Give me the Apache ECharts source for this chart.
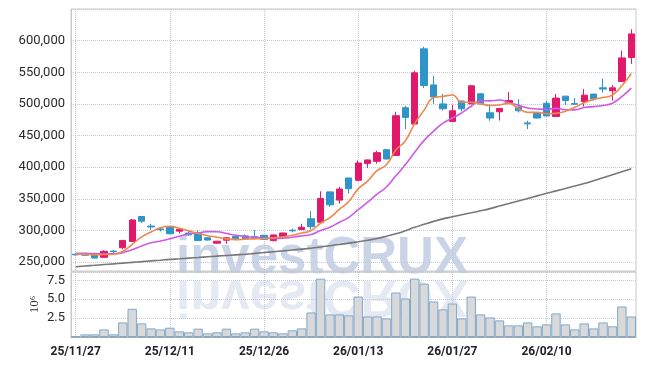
<!DOCTYPE html>
<html><head><meta charset="utf-8">
<script src="https://cdn.jsdelivr.net/npm/echarts@6/dist/echarts.min.js"></script>
<style>html,body{margin:0;padding:0;background:#fff}#c{width:645px;height:366px}</style>
</head><body><div id="c"></div>
<script>
const dates = ['25/11/27','25/11/28','25/12/01','25/12/02','25/12/03','25/12/04','25/12/05','25/12/08','25/12/09','25/12/10',
'25/12/11','25/12/12','25/12/15','25/12/16','25/12/17','25/12/18','25/12/19','25/12/22','25/12/23','25/12/24',
'25/12/26','25/12/29','25/12/30','26/01/02','26/01/05','26/01/06','26/01/07','26/01/08','26/01/09','26/01/12',
'26/01/13','26/01/14','26/01/15','26/01/16','26/01/19','26/01/20','26/01/21','26/01/22','26/01/23','26/01/26',
'26/01/27','26/01/28','26/01/29','26/01/30','26/02/02','26/02/03','26/02/04','26/02/05','26/02/06','26/02/09',
'26/02/10','26/02/11','26/02/12','26/02/13','26/02/19','26/02/20','26/02/23','26/02/24','26/02/25','26/02/26'];

const opens = [262500,262000,263300,257600,267500,272700,282700,322100,307000,302500,
305200,299000,296000,295500,288500,280000,284700,290500,291500,290000,
292500,284000,290000,300500,301500,318500,313000,361000,348000,383000,
379300,406000,409300,427700,418700,494000,468200,587000,530000,500000,
472300,504600,500200,516000,486000,487600,502300,495000,470000,486500,
501000,480200,512300,500500,503800,515500,525500,520700,535400,573200];
const closes = [261500,261000,256500,267100,266500,284300,316700,314700,305500,301500,
294800,302000,293000,284000,285000,283100,288500,287500,287500,287500,
286000,293000,296000,299500,305000,306000,350500,340500,365500,366000,
406700,411500,423000,413000,481300,478600,549100,529000,511000,492300,
489200,492300,528600,500000,477700,492800,505400,489200,468500,477700,
481000,509200,505400,499500,513900,508100,523500,525400,572700,610600];
const lows = [260500,260000,255500,257000,263700,270500,282000,311900,301000,298500,
294000,295300,292000,283500,284000,279500,279000,287000,287000,287000,
285500,282700,289500,297000,301000,301600,312500,337400,342600,358400,
378800,398900,405600,412500,418200,460300,467700,525000,500200,489700,
471800,488100,499700,499500,473400,473900,501800,486500,460300,477200,
480500,479700,498100,499000,496000,505000,518000,505400,534900,563300];
const highs = [263500,264000,264000,268700,268900,285000,318300,322800,310500,304500,
306000,302500,300000,300100,289000,283500,289000,291000,293700,301000,
293000,293500,296500,303000,310600,330500,362000,361500,368900,383500,
410800,412000,426100,428200,487600,497100,552300,590500,544400,516000,
498600,505100,530200,516500,499700,493300,518700,507600,473400,487000,
505000,515500,512800,509200,523400,516000,540100,529700,584200,618000];

const ma5 = [263000,262500,261500,262000,262500,267100,278200,289900,297500,304500,
306600,303700,299400,295100,291800,289400,286700,285600,286300,286800,
287400,288300,290000,292400,295900,299900,311400,320300,333500,345700,
365800,378000,394500,404000,427100,441500,469000,490200,509800,512000,
514100,502800,502700,500500,497600,498300,500900,493000,486700,486700,
484400,485100,488400,494600,501800,507200,510100,514100,528700,548100];
const ma10 = [264000,263800,263500,263200,263000,265000,269500,275500,280500,283500,
286900,291000,294600,296300,298200,298000,295200,292500,290700,289300,
288400,287500,287800,289400,291400,293700,299900,305200,313000,320800,
332900,344700,357400,368800,386400,403700,423500,442400,456900,469600,
477800,485900,496400,505100,504800,506200,501800,497900,493600,492100,
491300,493000,490700,490600,494300,495800,497600,501200,511600,524900];
const maLong = [242700,243900,245000,246200,247300,248500,249700,250800,252000,253100,
254300,255300,256400,257400,258500,259500,260500,261500,262500,263800,
265200,266500,267800,269200,270500,272000,274000,276000,278000,280000,
282200,284500,287300,291000,294800,299600,305100,309800,314400,318400,
321600,324800,327900,331100,334600,338600,342600,346700,350700,354700,
358800,362600,366500,370400,374200,378700,383400,388100,392800,397500];

// volume in millions (axis unit 10^6)
const volumes = [0.12,0.35,0.35,1.0,0.35,1.93,3.73,1.8,1.14,1.0,
1.23,0.75,0.62,1.1,0.48,0.62,1.1,0.48,0.62,1.1,
0.75,0.62,0.48,0.88,1.14,3.25,7.72,2.99,2.99,2.86,
5.35,2.72,2.72,2.46,5.88,5.09,7.72,7.06,4.7,3.65,
4.43,2.46,5.35,2.99,2.59,2.2,1.54,1.54,1.93,1.41,
1.67,3.12,1.67,1.01,1.8,1.14,1.93,1.41,4.04,2.72];

const UP = '#e2196a', DOWN = '#2f95c9';
const gridLine = {show:true, lineStyle:{color:'#c3c8d8', type:'dotted', width:1}};
const xSplit = {show:true, interval:9, alignWithLabel:true, lineStyle:{color:'#c3c8d8', type:'dotted', width:1}};
const labFont = 'Roboto, sans-serif';
const candleData = dates.map((d,i)=>[opens[i], closes[i], lows[i], highs[i]]);
const wmFill = 'rgba(160,175,210,0.55)';
const wmFont = 'bold 51px "Liberation Sans", Arial, sans-serif';

const chart = echarts.init(document.getElementById('c'), null, {renderer:'canvas'});
chart.setOption({
  animation:false,
  backgroundColor:'#fff',
  grid:[
    {left:71, right:9, top:9, height:262, show:true, borderColor:'#c8c8c8', borderWidth:1, backgroundColor:'transparent'},
    {left:71, right:9, top:272, height:65, show:true, borderColor:'#c8c8c8', borderWidth:1, backgroundColor:'transparent'}
  ],
  graphic:[
    {type:'text', z:-1, silent:true, x:176, y:259, style:{text:'investCRUX', font:wmFont, fill:wmFill, verticalAlign:'middle', align:'left'}},
    {type:'text', z:-1, silent:true, x:176, y:277, scaleY:-1, style:{text:'investCRUX', x:0, y:-18, font:wmFont, fill:'rgba(160,175,210,0.28)', verticalAlign:'middle', align:'left'}}
  ],
  xAxis:[
    {type:'category', gridIndex:0, data:dates, boundaryGap:true,
     axisLine:{show:false}, axisTick:{show:false}, axisLabel:{show:false}, splitLine:xSplit},
    {type:'category', gridIndex:1, data:dates, boundaryGap:true,
     axisLine:{show:true, lineStyle:{color:'#a8a8a8'}}, axisTick:{show:false},
     axisLabel:{interval:9, color:'#222', fontFamily:labFont, fontWeight:'bold', fontSize:12, margin:9},
     splitLine:xSplit}
  ],
  yAxis:[
    {type:'value', gridIndex:0, min:236000, max:650000, splitNumber:8, scale:true,
     axisLine:{show:true, lineStyle:{color:'#c8c8c8'}}, axisTick:{show:false},
     axisLabel:{color:'#2a2a2a', fontFamily:labFont, fontSize:13, margin:6, padding:[6,0,0,0], showMinLabel:false, showMaxLabel:false,
       formatter:v=>v.toLocaleString('en-US')},
     splitLine:gridLine},
    {type:'value', gridIndex:1, min:0, max:8.6, interval:2.5,
     name:'10⁶', nameLocation:'middle', nameRotate:90, nameGap:30, nameMoveOverlap:false,
     nameTextStyle:{color:'#333', fontFamily:'"Liberation Serif", serif', fontSize:13},
     axisLine:{show:true, lineStyle:{color:'#c8c8c8'}}, axisTick:{show:false},
     axisLabel:{color:'#2a2a2a', fontFamily:labFont, fontSize:13, margin:6, padding:[6,0,0,0], showMinLabel:false, showMaxLabel:false,
       formatter:v=>v.toFixed(1)},
     splitLine:gridLine}
  ],
  series:[
    {type:'candlestick', xAxisIndex:0, yAxisIndex:0, data:candleData, barWidth:'72%',
     itemStyle:{color:UP, color0:DOWN, borderColor:UP, borderColor0:DOWN, borderWidth:1}},
    {type:'line', xAxisIndex:0, yAxisIndex:0, data:maLong, symbol:'none', smooth:true,
     lineStyle:{color:'#777', width:1.6}},
    {type:'line', xAxisIndex:0, yAxisIndex:0, data:ma10, symbol:'none', smooth:true,
     lineStyle:{color:'#cc5ae6', width:1.6}},
    {type:'line', xAxisIndex:0, yAxisIndex:0, data:ma5, symbol:'none', smooth:true,
     lineStyle:{color:'#f0874c', width:1.6}},
    {type:'bar', xAxisIndex:1, yAxisIndex:1, data:volumes, barWidth:'100%',
     itemStyle:{color:'#d9d9d9', borderColor:'#7fa9cf', borderWidth:1}}
  ]
});
</script></body></html>
